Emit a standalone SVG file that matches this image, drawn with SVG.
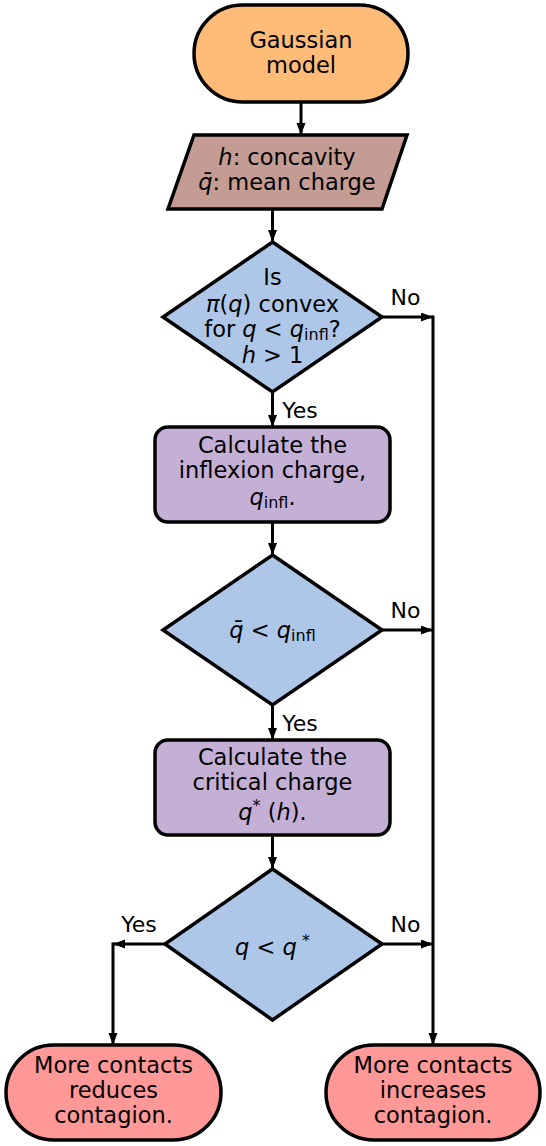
<svg xmlns="http://www.w3.org/2000/svg" width="546" height="1146" viewBox="0 0 546 1146">
<style>
text{font-family:"DejaVu Sans","Liberation Sans",sans-serif;font-size:22.5px;fill:#000;text-anchor:middle}
.lbl{font-size:22px}
.it{font-style:italic}
.sub{font-size:16px}
.node{stroke:#000;stroke-width:3.5;stroke-linejoin:miter}
.term{fill:#ffbb78}
.io{fill:#c49c94}
.dec{fill:#aec7e8}
.proc{fill:#c5b0d5}
.end{fill:#ff9896}
.edge{fill:none;stroke:#000;stroke-width:3}
</style>
<defs>
<marker id="ah" markerUnits="userSpaceOnUse" markerWidth="13" markerHeight="10" refX="12" refY="4.5" orient="auto">
<path d="M0,0 L12,4.5 L0,9 z" fill="#000"/>
</marker>
</defs>
<g id="connectors">
<line class="edge" x1="301" y1="102" x2="301" y2="135" marker-end="url(#ah)"/>
<line class="edge" x1="272.5" y1="209" x2="272.5" y2="242" marker-end="url(#ah)"/>
<line class="edge" x1="382" y1="317" x2="433" y2="317" marker-end="url(#ah)"/>
<line class="edge" x1="433" y1="315.5" x2="433" y2="1045" marker-end="url(#ah)"/>
<line class="edge" x1="272.5" y1="392" x2="272.5" y2="427" marker-end="url(#ah)"/>
<line class="edge" x1="272.5" y1="522" x2="272.5" y2="555" marker-end="url(#ah)"/>
<line class="edge" x1="382" y1="630" x2="433" y2="630" marker-end="url(#ah)"/>
<line class="edge" x1="272.5" y1="705" x2="272.5" y2="740" marker-end="url(#ah)"/>
<line class="edge" x1="272.5" y1="835" x2="272.5" y2="869" marker-end="url(#ah)"/>
<line class="edge" x1="382" y1="944" x2="433" y2="944" marker-end="url(#ah)"/>
<line class="edge" x1="165" y1="944" x2="113" y2="944" marker-end="url(#ah)"/>
<line class="edge" x1="113" y1="942.5" x2="113" y2="1045" marker-end="url(#ah)"/>
<text class="lbl" x="405.5" y="305">No</text>
<text class="lbl" x="300" y="418">Yes</text>
<text class="lbl" x="405.5" y="618">No</text>
<text class="lbl" x="300" y="731">Yes</text>
<text class="lbl" x="139" y="932">Yes</text>
<text class="lbl" x="405.5" y="932">No</text>
</g>
<g id="start">
<rect class="node term" x="194" y="5" width="214" height="97" rx="48.5"/>
<text x="301" y="48">Gaussian</text>
<text x="301" y="73">model</text>
</g>
<g id="input">
<polygon class="node io" points="194,135 407,135 382,209 168,209"/>
<text x="287" y="165"><tspan class="it">h</tspan>: concavity</text>
<text x="287" y="190"><tspan class="it">q̄</tspan>: mean charge</text>
</g>
<g id="decision1">
<polygon class="node dec" points="272.5,242 382,317 272.5,392 163,317"/>
<text x="272.5" y="285">Is</text>
<text x="272.5" y="312"><tspan class="it">π</tspan>(<tspan class="it">q</tspan>) convex</text>
<text x="272.5" y="337">for <tspan class="it">q</tspan> &lt; <tspan class="it">q</tspan><tspan class="sub" dy="3">infl</tspan><tspan dy="-3">?</tspan></text>
<text x="272.5" y="363"><tspan class="it">h</tspan> &gt; 1</text>
</g>
<g id="process1">
<rect class="node proc" x="155" y="427" width="235" height="95" rx="13"/>
<text x="272.5" y="453">Calculate the</text>
<text x="272.5" y="478">inflexion charge,</text>
<text x="272.5" y="505"><tspan class="it">q</tspan><tspan class="sub" dy="3">infl</tspan><tspan dy="-3">.</tspan></text>
</g>
<g id="decision2">
<polygon class="node dec" points="272.5,555 382,630 272.5,705 163,630"/>
<text x="272.5" y="638"><tspan class="it">q̄</tspan> &lt; <tspan class="it">q</tspan><tspan class="sub" dy="3">infl</tspan></text>
</g>
<g id="process2">
<rect class="node proc" x="155" y="740" width="235" height="95" rx="13"/>
<text x="272.5" y="765">Calculate the</text>
<text x="272.5" y="790">critical charge</text>
<text x="272.5" y="820"><tspan class="it">q</tspan><tspan class="sub" dy="-9">*</tspan><tspan dy="9"> (</tspan><tspan class="it">h</tspan>).</text>
</g>
<g id="decision3">
<polygon class="node dec" points="272.5,869 382,944 272.5,1020 165,944"/>
<text x="272.5" y="955"><tspan class="it">q</tspan> &lt; <tspan class="it">q</tspan><tspan class="sub" dy="-9"> *</tspan></text>
</g>
<g id="end_reduces">
<rect class="node end" x="6" y="1045" width="215" height="95" rx="47.5"/>
<text x="113.5" y="1073">More contacts</text>
<text x="113.5" y="1098">reduces</text>
<text x="113.5" y="1123">contagion.</text>
</g>
<g id="end_increases">
<rect class="node end" x="326" y="1045" width="214" height="95" rx="47.5"/>
<text x="433" y="1073">More contacts</text>
<text x="433" y="1098">increases</text>
<text x="433" y="1123">contagion.</text>
</g>
</svg>
